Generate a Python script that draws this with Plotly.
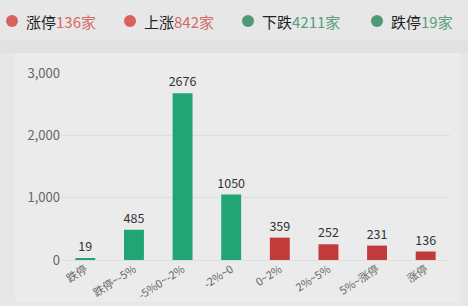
import plotly.graph_objects as go

categories = ["跌停", "跌停~-5%", "-5%0~-2%", "-2%~0", "0~2%", "2%~5%", "5%~涨停", "涨停"]
values = [19, 485, 2676, 1050, 359, 252, 231, 136]
bar_colors = ["#22a574"] * 4 + ["#c23b3b"] * 4

legend_names = ["涨停", "上涨", "下跌", "跌停"]
legend_counts = ["136家", "842家", "4211家", "19家"]
legend_dot_colors = ["#d9625c", "#d9625c", "#4e9b77", "#4e9b77"]
legend_num_colors = ["#d46a66", "#d46a66", "#5b9c7c", "#5b9c7c"]
legend_x = [12, 130, 248, 377]

W, H = 468, 306

fig = go.Figure()
fig.add_trace(go.Bar(
    x=categories, y=values, marker_color=bar_colors, marker_line_width=0,
    width=0.41, text=[str(v) for v in values], textposition="outside",
    constraintext="none",
    textfont=dict(size=12.5, color="#333333", family="Noto Sans CJK SC"),
    cliponaxis=False, showlegend=False,
))

shapes = [
    dict(type="rect", xref="paper", yref="paper", x0=-61/389, x1=(468-61)/389,
         y0=1 + (73-40)/187, y1=1 + (73-53)/187, fillcolor="#e2e2e2", line_width=0, layer="below"),
    dict(type="rect", xref="paper", yref="paper", x0=(15-61)/389, x1=(460-61)/389,
         y0=-(302-260)/187, y1=1 + (73-53)/187, fillcolor="#ebebeb", line_width=0, layer="below"),
]
annotations = []
for name, cnt, dc, nc, lx in zip(legend_names, legend_counts, legend_dot_colors, legend_num_colors, legend_x):
    cx = (lx - 61) / 389
    cy = 1 + (73 - 21) / 187
    rx = 6 / 389
    ry = 6 / 187
    shapes.append(dict(type="circle", xref="paper", yref="paper", x0=cx - rx, x1=cx + rx,
                       y0=cy - ry, y1=cy + ry, fillcolor=dc, line_width=0))
    annotations.append(dict(
        xref="paper", yref="paper", x=(lx + 12 - 61) / 389, y=cy, xanchor="left", yanchor="middle",
        text=f"{name}<span style='color:{nc}'>{cnt}</span>", showarrow=False,
        font=dict(size=15, color="#222222", family="Noto Sans CJK SC"),
    ))

fig.update_layout(
    width=W, height=H,
    margin=dict(l=61, r=18, t=73, b=46, autoexpand=False),
    paper_bgcolor="#e7e7e7", plot_bgcolor="rgba(0,0,0,0)",
    shapes=shapes, annotations=annotations,
    bargap=0.59,
    font=dict(family="Noto Sans CJK SC", color="#666666"),
    xaxis=dict(tickangle=-33, tickfont=dict(size=11, color="#666666"), showgrid=False,
               showline=False, ticks="", automargin=False),
    yaxis=dict(range=[0, 3000], tickvals=[0, 1000, 2000, 3000], tickformat=",",
               tickfont=dict(size=13, color="#666666"), gridcolor="#dddddd", gridwidth=1,
               zeroline=True, zerolinecolor="#dddddd", zerolinewidth=1, showline=False, ticks="",
               automargin=False),
)

fig.write_html("out.html")
